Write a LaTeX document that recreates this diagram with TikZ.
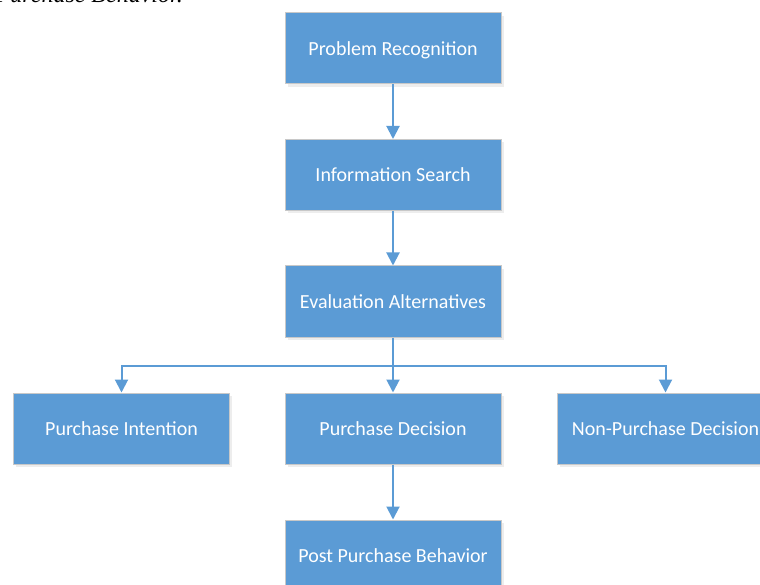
\documentclass[tikz,border=0pt]{standalone}
\usepackage{fontspec}
\setmainfont{Carlito}
\newfontfamily\capfont{Liberation Serif}
\usetikzlibrary{shadows,arrows.meta}
\definecolor{stepblue}{HTML}{5B9BD5}
\definecolor{stepedge}{HTML}{C8C8C8}
\begin{document}
\begin{tikzpicture}[x=1pt,y=-1pt,
  every node/.style={font=\fontsize{20}{24}\selectfont},
  stage/.style={draw=stepedge,line width=1pt,fill=stepblue,text=white,
    minimum width=216pt,minimum height=71pt,inner sep=0pt,
    text height=15.5pt,text depth=2pt,
    drop shadow={shadow xshift=2.5pt,shadow yshift=-3pt,fill=black,opacity=.07}},
  flow/.style={draw=stepblue,line width=2pt,-{Triangle[length=13pt,width=13pt]}}]
\useasboundingbox (0,0) rectangle (760,585);
\clip (0,0) rectangle (760,585);
% caption line cut off at the top edge
\node[font=\capfont\itshape\fontsize{24}{28}\selectfont,anchor=base east,inner sep=0pt] (cap) at (183,3) {Purchase Behavior.};
% decision steps
\node[stage] (recog) at (393,48.5) {Problem Recognition};
\node[stage] (search) at (393,175) {Information Search};
\node[stage] (eval) at (393,301.5) {Evaluation Alternatives};
\node[stage] (intent) at (121.5,428.5) {Purchase Intention};
\node[stage] (buy) at (393,428.5) {Purchase Decision};
\node[stage] (nobuy) at (665.5,428.5) {Non-Purchase Decision};
\node[stage] (post) at (393,555.5) {Post Purchase Behavior};
\coordinate (split) at (393,366);
% connectors
\draw[flow] (recog) -- (search);
\draw[flow] (search) -- (eval);
\draw[flow] (eval) -- (buy);
\draw[flow] (split) -| (intent);
\draw[flow] (split) -| (nobuy);
\draw[flow] (buy) -- (post);
\end{tikzpicture}
\end{document}
